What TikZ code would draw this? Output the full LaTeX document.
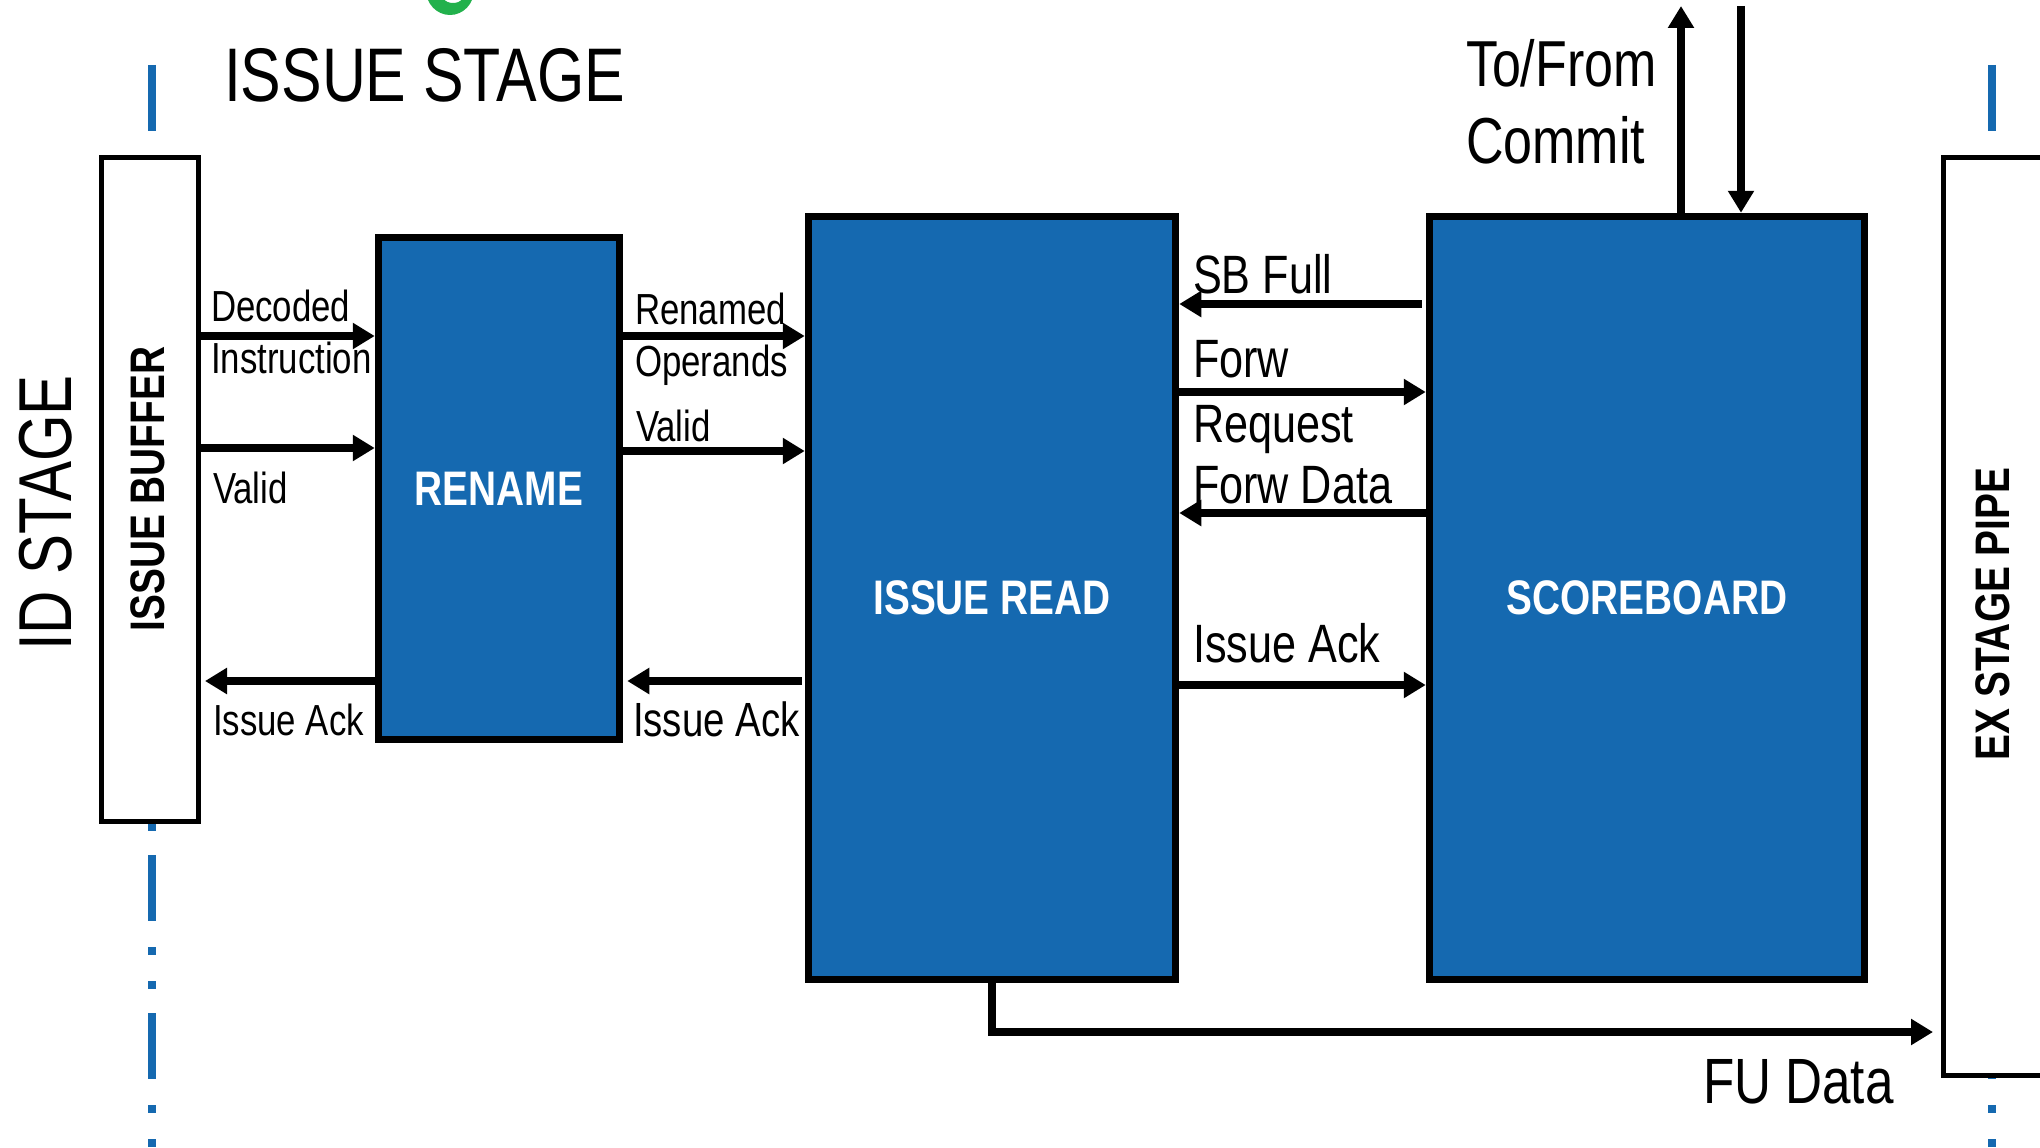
\documentclass[tikz,border=0pt]{standalone}
\usepackage{fontspec}
\setmainfont{Liberation Sans}
\newfontfamily\nar[FakeStretch=0.8]{Liberation Sans}
\usetikzlibrary{arrows.meta}

\definecolor{blockblue}{RGB}{21,105,176}
\definecolor{markgreen}{RGB}{34,177,76}

\tikzset{
  blk/.style={draw=black, line width=7.5pt, fill=blockblue, inner sep=0pt,
    outer sep=3.75pt, text=white, font=\nar\bfseries\fontsize{48.5}{54}\selectfont},
  wbox/.style={draw=black, line width=5pt, fill=white, inner sep=0pt, outer sep=2.5pt},
  vlabel/.style={rotate=90, inner sep=0pt, outer sep=0pt, text=black,
    font=\nar\bfseries\fontsize{48.5}{54}\selectfont},
  arr/.style={line width=8pt, -{Triangle[length=22pt,width=25pt]}},
  lbl/.style={inner sep=0pt, outer sep=0pt, anchor=base west, text=black},
  fs/.style={font=\nar\fontsize{#1}{#1}\selectfont},
  stageline/.style={blockblue, line width=8pt,
    dash pattern=on 66pt off 26pt on 8pt off 26pt on 8pt off 24pt},
}

\begin{document}
\begin{tikzpicture}[x=1pt,y=-1pt]
\useasboundingbox (0,0) rectangle (2040,1148);

% stage boundary lines
\coordinate (lTop) at (152,65);
\coordinate (lBot) at (152,1160);
\coordinate (rTop) at (1992,65);
\coordinate (rBot) at (1992,1160);
\draw[stageline] (lTop) -- (lBot);
\draw[stageline] (rTop) -- (rBot);

% green mark at the top edge
\fill[markgreen, even odd rule] (450,-10) ellipse [x radius=24pt, y radius=25pt]
  (453,-10) ellipse [x radius=14pt, y radius=13pt];

% titles
\node[lbl, fs=76] (tIssue) at (224,102) {ISSUE STAGE};
\node[rotate=90, anchor=base, inner sep=0pt, fs=75] (tID) at (71,513) {ID STAGE};

% blocks
\node[wbox, minimum width=97pt, minimum height=664pt] (buf) at (150,489) {};
\node[vlabel] (bufl) at (148,489) {ISSUE BUFFER};
\node[blk, minimum width=241pt, minimum height=502pt] (ren) at (499,488.5) {RENAME};
\node[blk, minimum width=367pt, minimum height=763pt] (ir) at (992,598) {ISSUE READ};
\node[blk, minimum width=435pt, minimum height=763pt] (sb) at (1647,598) {SCOREBOARD};
\node[wbox, minimum width=104pt, minimum height=918.5pt] (ex) at (1995.5,616.25) {};
\node[vlabel] (exl) at (1992.5,614) {EX STAGE PIPE};

% signal levels
\coordinate (yA) at (0,336);
\coordinate (yB) at (0,448);
\coordinate (yC) at (0,681);
\coordinate (yD) at (0,451);
\coordinate (yE) at (0,304);
\coordinate (yF) at (0,392);
\coordinate (yG) at (0,513);
\coordinate (yH) at (0,685);
\coordinate (yI) at (0,1032);
\coordinate (cUp) at (1681,6);
\coordinate (cDn) at (1741,6);

% issue buffer <-> rename
\draw[arr] (buf.east |- yA) -- (ren.west |- yA);
\draw[arr] (buf.east |- yB) -- (ren.west |- yB);
\draw[arr] (ren.west |- yC) -- ([xshift=4pt]buf.east |- yC);
\node[lbl, fs=43.5] (lDec) at (211,321) {Decoded};
\node[lbl, fs=43.5] (lIns) at (211,373) {Instruction};
\node[lbl, fs=43.5] (lVal1) at (213,503) {Valid};
\node[lbl, fs=43.5] (lAck1) at (213,735) {Issue Ack};

% rename <-> issue read
\draw[arr] (ren.east |- yA) -- (ir.west |- yA);
\draw[arr] (ren.east |- yD) -- (ir.west |- yD);
\draw[arr] ([xshift=-3pt]ir.west |- yC) -- ([xshift=4pt]ren.east |- yC);
\node[lbl, fs=43.5] (lRen) at (635,324) {Renamed};
\node[lbl, fs=43.5] (lOpe) at (635,376) {Operands};
\node[lbl, fs=43.5] (lVal2) at (636,441) {Valid};
\node[lbl, fs=48] (lAck2) at (633,736) {Issue Ack};

% issue read <-> scoreboard
\draw[arr] ([xshift=-4pt]sb.west |- yE) -- (ir.east |- yE);
\draw[arr] (ir.east |- yF) -- (sb.west |- yF);
\draw[arr] (sb.west |- yG) -- (ir.east |- yG);
\draw[arr] (ir.east |- yH) -- (sb.west |- yH);
\node[lbl, fs=54] (lSB) at (1193,293) {SB Full};
\node[lbl, fs=54] (lFw) at (1193,377) {Forw};
\node[lbl, fs=54] (lReq) at (1193,442) {Request};
\node[lbl, fs=54] (lFwD) at (1193,503) {Forw Data};
\node[lbl, fs=54] (lAck3) at (1193,662) {Issue Ack};

% scoreboard <-> commit
\draw[arr] (sb.north -| cUp) -- (cUp);
\draw[arr] (cDn) -- (sb.north -| cDn);
\node[lbl, fs=65] (lTo) at (1466,86) {To/From};
\node[lbl, fs=65] (lCom) at (1466,163) {Commit};

% issue read -> EX stage
\draw[arr] (ir.south) |- ([xshift=-8pt]ex.west |- yI);
\node[lbl, fs=64] (lFU) at (1703,1103) {FU Data};

\end{tikzpicture}
\end{document}
